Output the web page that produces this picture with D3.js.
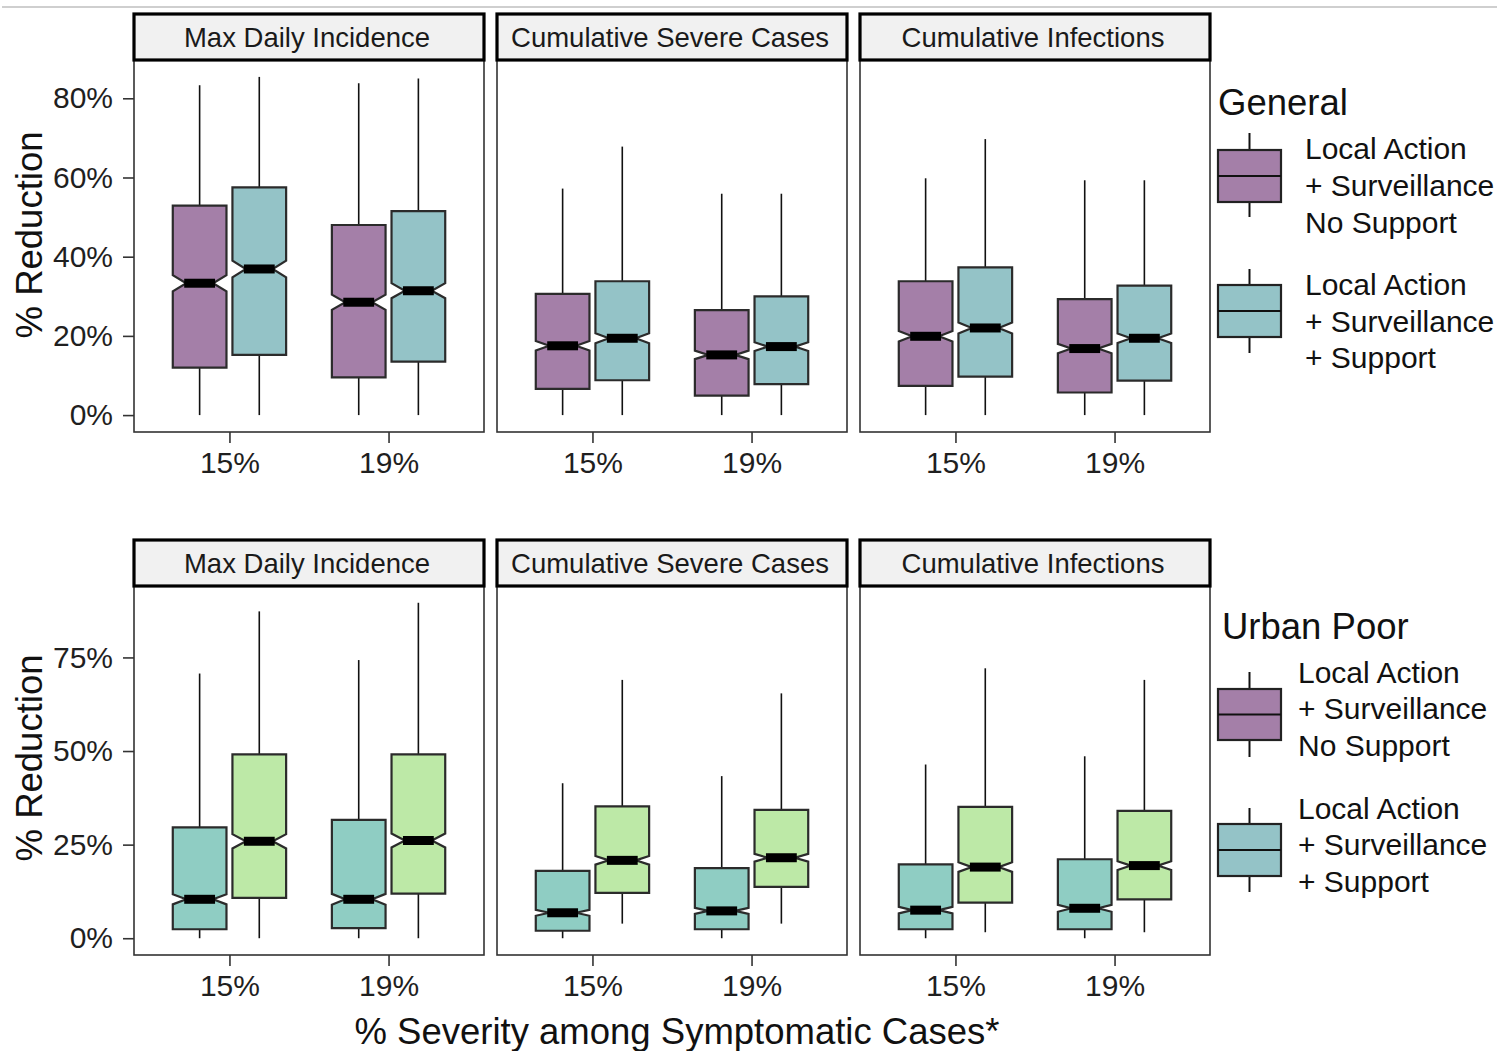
<!DOCTYPE html>
<html>
<head>
<meta charset="utf-8">
<script src="https://cdn.jsdelivr.net/npm/d3@7"></script>
<style>
  html, body { margin: 0; padding: 0; background: #fff; }
  svg { display: block; font-family: "Liberation Sans", Arial, Helvetica, sans-serif; }
</style>
</head>
<body>
<svg id="chart" width="1497" height="1051"></svg>
<script>
// ---- data -------------------------------------------------------------
const severities = ["15%", "19%"];
const outcomes = ["Max Daily Incidence", "Cumulative Severe Cases", "Cumulative Infections"];
const strategyLabels = [
  ["Local Action", "+ Surveillance", "No Support"],
  ["Local Action", "+ Surveillance", "+ Support"]
];
const populations = ["General", "Urban Poor"];
const generalTicks = [0, 20, 40, 60, 80];
const urbanTicks = [0, 25, 50, 75];
const simsPerBox = 1000; // simulations behind each box (sets notch size)

// five-number summaries [lower whisker, Q1, median, Q3, upper whisker], % reduction
// rows: outcome x severity (15%, 19%)
const generalNoSupport = [
  [0, 12.0, 33.3, 52.9, 83.3], [0, 9.5, 28.5, 48.0, 83.8],
  [0, 6.6, 17.5, 30.6, 57.2],  [0, 4.9, 15.2, 26.5, 55.9],
  [0, 7.4, 19.9, 33.8, 59.8],  [0, 5.7, 16.8, 29.3, 59.3]
];
const generalSupport = [
  [0, 15.2, 36.9, 57.5, 85.4], [0, 13.5, 31.4, 51.5, 85.0],
  [0, 8.8, 19.4, 33.8, 67.8],  [0, 7.8, 17.3, 30.0, 55.9],
  [0, 9.7, 22.0, 37.3, 69.7],  [0, 8.7, 19.4, 32.7, 59.3]
];
const urbanNoSupport = [
  [0, 2.4, 10.4, 29.6, 70.7], [0, 2.7, 10.4, 31.6, 74.3],
  [0, 2.0, 6.8, 18.0, 41.4],  [0, 2.4, 7.3, 18.7, 43.3],
  [0, 2.4, 7.5, 19.7, 46.4],  [0, 2.4, 8.0, 21.1, 48.6]
];
const urbanSupport = [
  [0, 10.8, 25.9, 49.1, 87.3],   [0, 11.9, 26.1, 49.1, 89.6],
  [3.9, 12.1, 20.8, 35.2, 69.0], [3.9, 13.7, 21.5, 34.3, 65.4],
  [1.6, 9.5, 19.0, 35.1, 72.1],  [1.6, 10.4, 19.4, 34.0, 69.0]
];

// ---- styling ----------------------------------------------------------
const generalFills = ["#a47fa8", "#94c3c7"];
const urbanFills = ["#8fcdc3", "#bde9a7"];
const legendFills = ["#a47fa8", "#94c3c7"];

const svg = d3.select("#chart");
const W = 1497;

svg.append("line")
  .attr("x1", 2).attr("x2", W).attr("y1", 7).attr("y2", 7)
  .attr("stroke", "#cfcfcf").attr("stroke-width", 2);

const panelLeft0 = 134, panelStep = 363, panelW = 350;

const rows = [
  { stripTop: 14, top: 60, bottom: 432, series: [generalNoSupport, generalSupport],
    fills: generalFills, ticks: generalTicks, yTitle: 235 },
  { stripTop: 540, top: 586, bottom: 955, series: [urbanNoSupport, urbanSupport],
    fills: urbanFills, ticks: urbanTicks, yTitle: 758 }
];

function notchPath(cx, bw, s, y) {
  const [lo, q1, med, q3, hi] = s;
  const half = 1.58 * (q3 - q1) / Math.sqrt(simsPerBox);
  const xl = cx - bw / 2, xr = cx + bw / 2, ind = bw / 4;
  const pts = [
    [xl, y(q3)], [xl, y(med + half)], [xl + ind, y(med)], [xl, y(med - half)], [xl, y(q1)],
    [xr, y(q1)], [xr, y(med - half)], [xr - ind, y(med)], [xr, y(med + half)], [xr, y(q3)]
  ];
  return d3.line()(pts) + "Z";
}

rows.forEach(row => {
  const all = row.series.flat();
  const lo = d3.min(all, d => d[0]), hi = d3.max(all, d => d[4]);
  const pad = (hi - lo) * 0.05;
  const y = d3.scaleLinear().domain([lo - pad, hi + pad]).range([row.bottom, row.top]);

  outcomes.forEach((outcome, j) => {
    const left = panelLeft0 + j * panelStep;
    const x = d3.scalePoint().domain(severities).range([left, left + panelW]).padding(0.6);
    const unit = x.step();
    const bw = 0.3375 * unit;
    const g = svg.append("g");

    g.append("rect")
      .attr("x", left).attr("y", row.top)
      .attr("width", panelW).attr("height", row.bottom - row.top)
      .attr("fill", "#fff");

    severities.forEach((sev, si) => {
      row.series.forEach((ser, k) => {
        const s = ser[j * 2 + si];
        const cx = x(sev) + (k === 0 ? -1 : 1) * 0.1875 * unit;
        const bg = g.append("g");
        bg.append("line")
          .attr("x1", cx).attr("x2", cx).attr("y1", y(s[3])).attr("y2", y(s[4]))
          .attr("stroke", "#111").attr("stroke-width", 1.6);
        bg.append("line")
          .attr("x1", cx).attr("x2", cx).attr("y1", y(s[1])).attr("y2", y(s[0]))
          .attr("stroke", "#111").attr("stroke-width", 1.6);
        bg.append("path")
          .attr("d", notchPath(cx, bw, s, y))
          .attr("fill", row.fills[k])
          .attr("stroke", "#2b2b2b").attr("stroke-width", 2.2)
          .attr("stroke-linejoin", "miter");
        bg.append("line")
          .attr("x1", cx - bw / 4 - 2).attr("x2", cx + bw / 4 + 2)
          .attr("y1", y(s[2])).attr("y2", y(s[2]))
          .attr("stroke", "#000").attr("stroke-width", 9);
      });
    });

    // panel border
    g.append("rect")
      .attr("x", left).attr("y", row.top)
      .attr("width", panelW).attr("height", row.bottom - row.top)
      .attr("fill", "none").attr("stroke", "#333").attr("stroke-width", 1.6);

    // strip
    g.append("rect")
      .attr("x", left).attr("y", row.stripTop)
      .attr("width", panelW).attr("height", row.top - row.stripTop)
      .attr("fill", "#f1f1f1").attr("stroke", "#000").attr("stroke-width", 3.2);
    g.append("text")
      .attr("x", left + panelW / 2 - 2).attr("y", (row.stripTop + row.top) / 2)
      .attr("dy", "0.36em")
      .attr("text-anchor", "middle")
      .attr("font-size", 27.5).attr("fill", "#1a1a1a")
      .text(outcome);

    // x axis
    const xa = g.append("g")
      .attr("transform", `translate(0,${row.bottom})`)
      .call(d3.axisBottom(x).tickSize(11).tickPadding(9));
    xa.select(".domain").remove();
    xa.selectAll("line").attr("stroke", "#333").attr("stroke-width", 1.6);
    xa.selectAll("text").attr("font-size", 30).attr("fill", "#1f1f1f")
      .attr("font-family", "Liberation Sans, Arial, sans-serif");

    // y axis on the first panel of the row
    if (j === 0) {
      const ya = g.append("g")
        .attr("transform", `translate(${left},0)`)
        .call(d3.axisLeft(y).tickValues(row.ticks).tickSize(11).tickPadding(10)
          .tickFormat(d => d + "%"));
      ya.select(".domain").remove();
      ya.selectAll("line").attr("stroke", "#333").attr("stroke-width", 1.6);
      ya.selectAll("text").attr("font-size", 30).attr("fill", "#1f1f1f")
        .attr("font-family", "Liberation Sans, Arial, sans-serif");
    }
  });

  svg.append("text")
    .attr("transform", `translate(42,${row.yTitle}) rotate(-90)`)
    .attr("text-anchor", "middle")
    .attr("font-size", 36.5).attr("fill", "#111")
    .text("% Reduction");
});

svg.append("text")
  .attr("x", 677).attr("y", 1044)
  .attr("text-anchor", "middle")
  .attr("font-size", 36.5).attr("fill", "#111")
  .text("% Severity among Symptomatic Cases*");

// ---- legends ------------------------------------------------------------
const legendLayouts = [
  { titleX: 1218, titleY: 115, textX: 1305,
    keys: [{ w0: 133, b0: 150, b1: 202, w1: 217, lines: [148, 185, 222] },
           { w0: 269, b0: 285, b1: 337, w1: 353, lines: [284, 321, 357] }] },
  { titleX: 1222, titleY: 639, textX: 1298,
    keys: [{ w0: 672, b0: 689, b1: 740, w1: 757, lines: [672, 708, 745] },
           { w0: 808, b0: 824, b1: 876, w1: 892, lines: [808, 844, 881] }] }
];

legendLayouts.forEach((lay, r) => {
  const lg = svg.append("g");
  lg.append("text")
    .attr("x", lay.titleX).attr("y", lay.titleY)
    .attr("font-size", 36.5).attr("fill", "#111")
    .text(populations[r]);
  lay.keys.forEach((key, k) => {
    const kx0 = 1218, kx1 = 1281, kc = (kx0 + kx1) / 2;
    lg.append("line").attr("x1", kc).attr("x2", kc).attr("y1", key.w0).attr("y2", key.w1)
      .attr("stroke", "#111").attr("stroke-width", 2);
    lg.append("rect").attr("x", kx0).attr("y", key.b0)
      .attr("width", kx1 - kx0).attr("height", key.b1 - key.b0)
      .attr("fill", legendFills[k]).attr("stroke", "#222").attr("stroke-width", 2.2);
    lg.append("line").attr("x1", kx0).attr("x2", kx1)
      .attr("y1", (key.b0 + key.b1) / 2).attr("y2", (key.b0 + key.b1) / 2)
      .attr("stroke", "#111").attr("stroke-width", 2);
    strategyLabels[k].forEach((t, li) => {
      lg.append("text")
        .attr("x", lay.textX).attr("y", key.lines[li])
        .attr("dy", "0.36em")
        .attr("font-size", 30).attr("fill", "#111")
        .text(t);
    });
  });
});
</script>
</body>
</html>
